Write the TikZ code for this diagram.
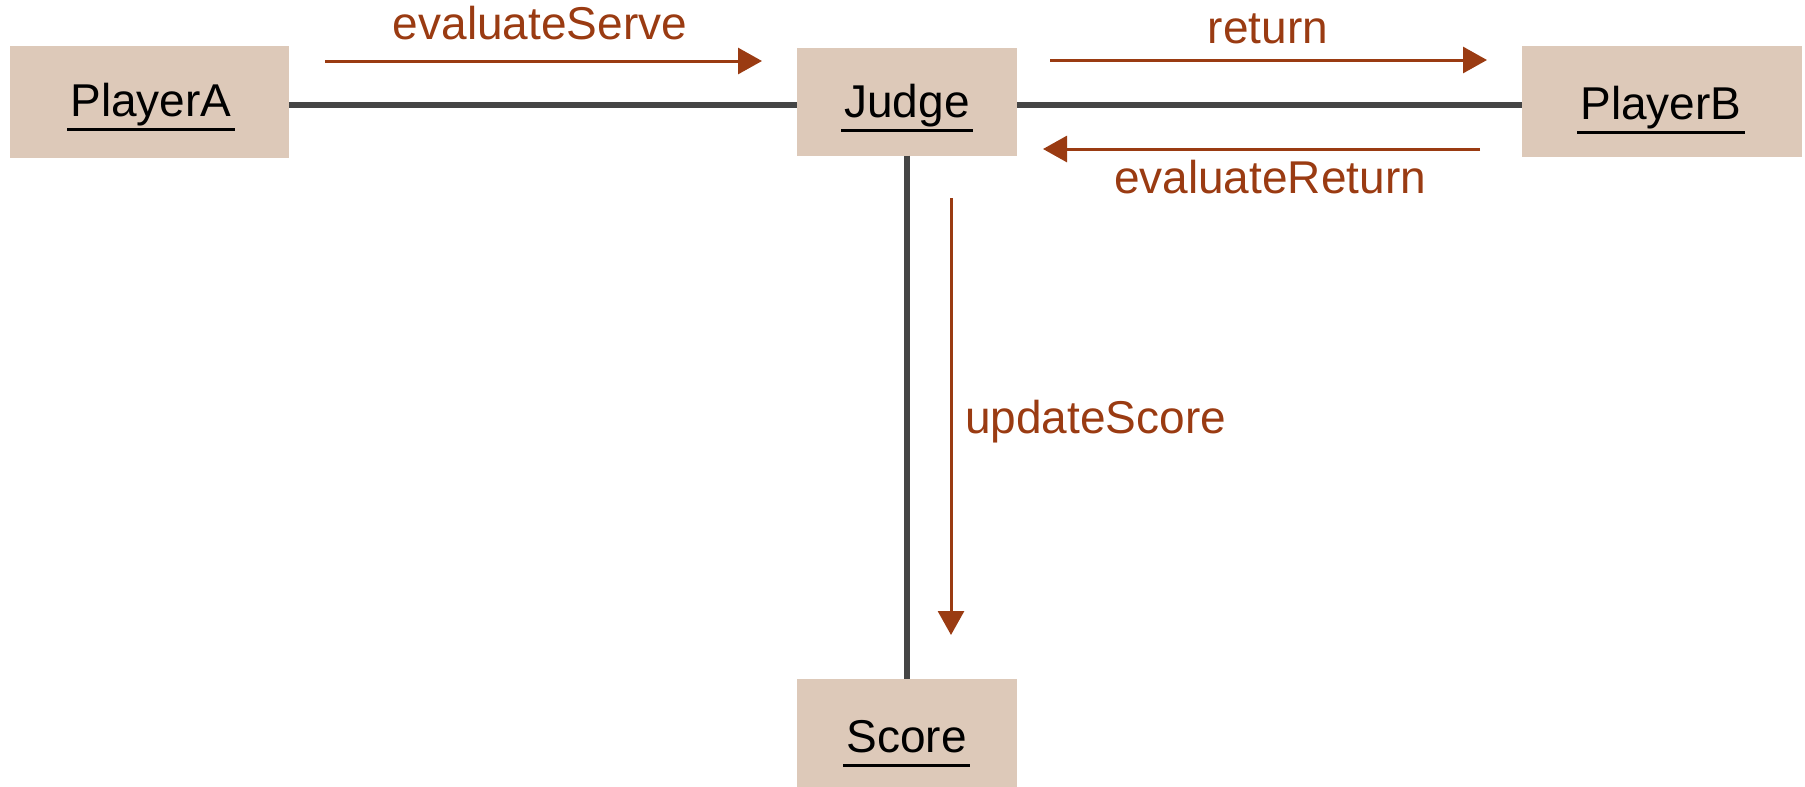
\documentclass[tikz,border=0pt]{standalone}
\usepackage{fontspec}
\setmainfont{Liberation Sans}
\usetikzlibrary{arrows.meta}

\definecolor{boxfill}{HTML}{DDC9B9}
\definecolor{msgcol}{HTML}{9A3B12}
\definecolor{linkcol}{HTML}{454545}

\tikzset{
  objbox/.style={draw=none, fill=boxfill, inner sep=0pt, rectangle},
  objname/.style={inner sep=0pt, anchor=base, text=black,
    font=\fontsize{46}{55}\selectfont},
  uline/.style={line width=3pt, black},
  link/.style={line width=6pt, linkcol},
  msg/.style={line width=3pt, msgcol,
    -{Triangle[length=24pt, width=26pt]}},
  msglabel/.style={inner sep=0pt, text=msgcol,
    font=\fontsize{46}{55}\selectfont}
}

\begin{document}
\begin{tikzpicture}[x=1pt, y=-1pt]
  \useasboundingbox (0,0) rectangle (1805,787);

  % objects
  \node[objbox, minimum width=279pt, minimum height=112pt] (A) at (149.5,101.5) {};
  \node[objbox, minimum width=220pt, minimum height=108pt] (J) at (907,101.5) {};
  \node[objbox, minimum width=280pt, minimum height=111pt] (B) at (1662,101.5) {};
  \node[objbox, minimum width=220pt, minimum height=108pt] (S) at (907,733) {};

  % links between objects
  \draw[link] ([yshift=-3pt]A.east) -- ([yshift=-3pt]J.west);
  \draw[link] ([yshift=-3pt]J.east) -- ([yshift=-3pt]B.west);
  \draw[link] (J.south) -- (S.north);

  % object names, underlined
  \node[objname] (At) at (151,116) {PlayerA};
  \node[objname] (Jt) at (907,117) {Judge};
  \node[objname] (Bt) at (1661,119) {PlayerB};
  \node[objname] (St) at (906.5,752) {Score};
  \foreach \t in {At,Jt,Bt,St}{
    \draw[uline] ([xshift=-3pt, yshift=-13pt]\t.base west)
              -- ([xshift=3pt, yshift=-13pt]\t.base east);
  }

  % messages
  \coordinate (m1s) at (325,61);   \coordinate (m1e) at (762,61);
  \coordinate (m2s) at (1050,60);  \coordinate (m2e) at (1487,60);
  \coordinate (m3s) at (1480,149); \coordinate (m3e) at (1043,149);
  \coordinate (m4s) at (951,198);  \coordinate (m4e) at (951,635);

  \draw[msg] (m1s) -- (m1e);
  \draw[msg] (m2s) -- (m2e);
  \draw[msg] (m3s) -- (m3e);
  \draw[msg] (m4s) -- (m4e);

  \node[msglabel, anchor=base] (l1) at (540,39) {evaluateServe};
  \node[msglabel, anchor=base] (l2) at (1268,43) {return};
  \node[msglabel, anchor=base] (l3) at (1270,193) {evaluateReturn};
  \node[msglabel, anchor=base west] (l4) at (965,433) {updateScore};
\end{tikzpicture}
\end{document}
